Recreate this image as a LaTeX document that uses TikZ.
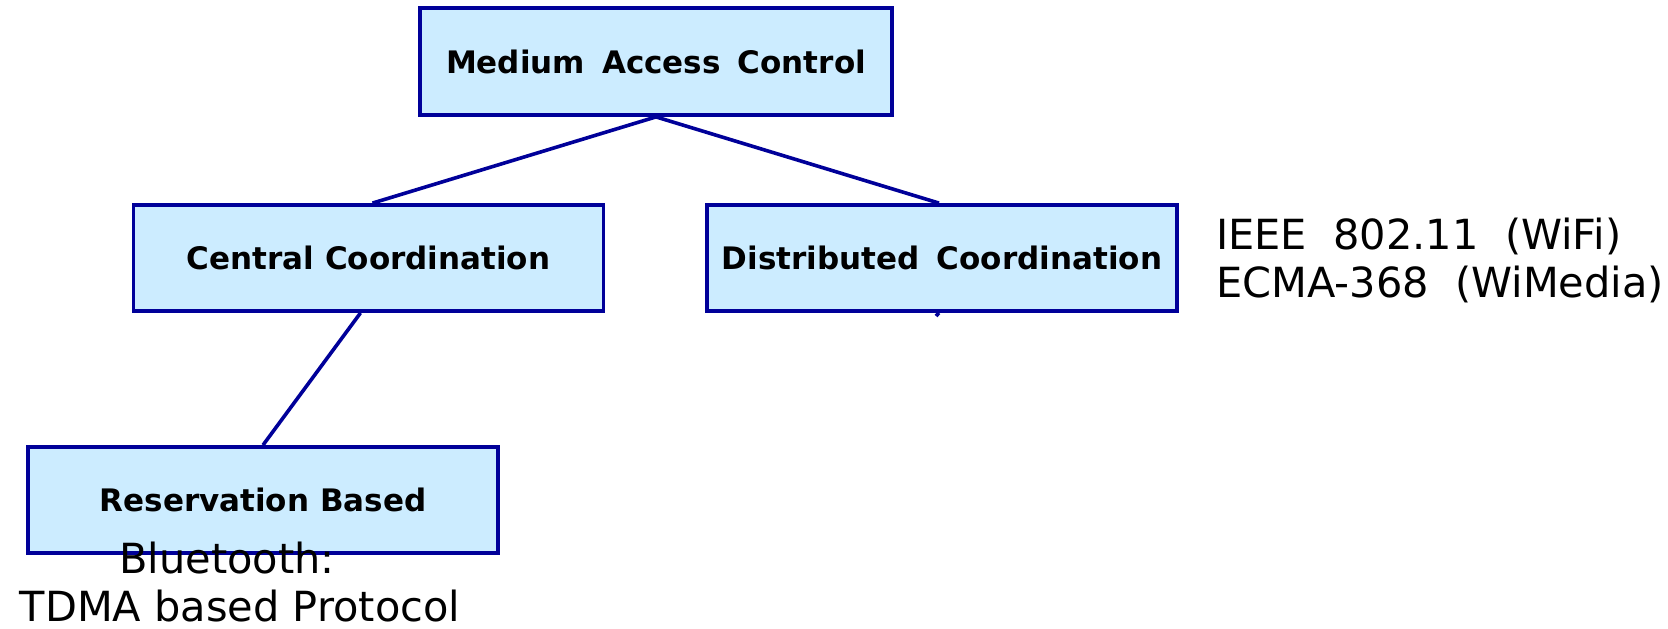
\documentclass[tikz,border=0pt]{standalone}
\usepackage{fontspec}
\setmainfont{DejaVu Sans}
\usetikzlibrary{calc}
\definecolor{edgeblue}{HTML}{000099}
\definecolor{boxfill}{HTML}{CCECFF}
\newcommand{\gap}{\hspace{0.55em}}
\tikzset{
  catbox/.style={draw=edgeblue, fill=boxfill, line width=3.8pt, inner sep=0pt,
    minimum width=470pt, minimum height=106pt, font=\fontsize{31}{37}\selectfont\bfseries},
  link/.style={draw=edgeblue, line width=3.6pt},
  note/.style={inner sep=0pt, font=\fontsize{41.5}{48}\selectfont}
}
\begin{document}
\begin{tikzpicture}[x=1pt,y=-1pt]
\useasboundingbox (0,0) rectangle (1668,629);

% category boxes
\node[catbox, minimum width=472pt, minimum height=107pt] (mac) at (656,61.5) {Medium\gap Access\gap Control};
\node[catbox] (cc) at (368.5,258) {Central Coordination};
\node[catbox] (dc) at (942,258) {Distributed\gap Coordination};
\node[catbox] (rb) at (263,500) {Reservation Based};

% tree connectors
\draw[link] (mac.south) -- ([xshift=4pt]cc.north);
\draw[link] (mac.south) -- ([xshift=-3pt]dc.north);
\draw[link] ([xshift=-8pt]cc.south) -- (rb.north);
\coordinate (stub) at (936,316);
\draw[link] ([xshift=-3pt]dc.south) -- (stub);

% example protocols
\node[note, anchor=west, align=left] (dcex) at (1216,260)
  {IEEE\ \ 802.11\ \ (WiFi)\\ECMA-368\ \ (WiMedia)};
\node[note, align=center] (rbex) at (240,582)
  {Bluetooth:\hspace*{26pt}\\TDMA based Protocol};
\end{tikzpicture}
\end{document}
